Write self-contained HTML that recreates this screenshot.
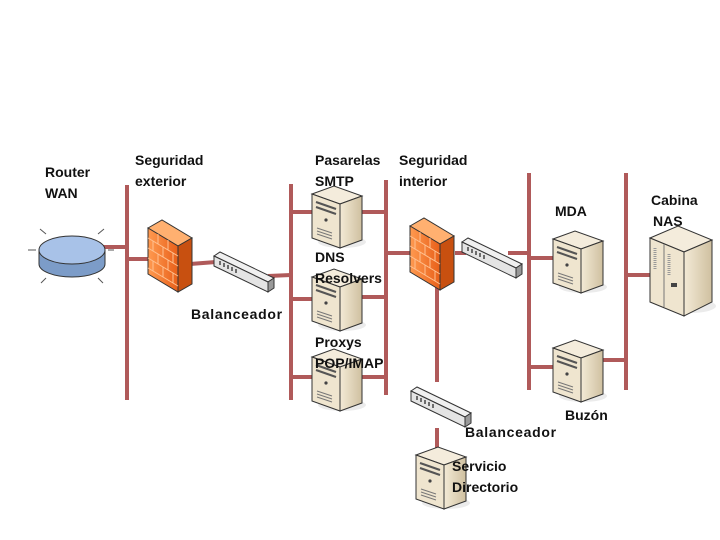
<!DOCTYPE html>
<html><head><meta charset="utf-8"><style>
html,body{margin:0;padding:0;background:#fff;}
svg{display:block;}
text{font-family:"Liberation Sans",sans-serif;font-size:14px;font-weight:bold;fill:#111;}
.ls{letter-spacing:0.7px;}
</style></head><body>
<svg width="720" height="540" viewBox="0 0 720 540" xmlns="http://www.w3.org/2000/svg">
<defs>
<linearGradient id="beige" x1="0" x2="1"><stop offset="0" stop-color="#f3ead6"/><stop offset="1" stop-color="#cfc0a0"/></linearGradient>
<linearGradient id="fw" x1="0" x2="1"><stop offset="0" stop-color="#ff9a50"/><stop offset="1" stop-color="#e8601a"/></linearGradient>
<g id="srv">
<ellipse cx="30" cy="60" rx="24" ry="6" fill="#ddd" opacity="0.6"/>
<polygon points="0,12 22,4 50,14 28,22" fill="#f4ecdc" stroke="#333" stroke-width="1"/>
<polygon points="0,12 28,22 28,66 0,56" fill="#efe5cf" stroke="#333" stroke-width="1"/>
<polygon points="28,22 50,14 50,58 28,66" fill="url(#beige)" stroke="#333" stroke-width="1"/>
<line x1="4" y1="20" x2="24" y2="27" stroke="#555" stroke-width="2"/>
<line x1="4" y1="25" x2="24" y2="32" stroke="#555" stroke-width="2"/>
<circle cx="14" cy="38" r="1.6" fill="#444"/>
<line x1="5" y1="46" x2="20" y2="51" stroke="#777"/>
<line x1="5" y1="49" x2="20" y2="54" stroke="#777"/>
<line x1="5" y1="52" x2="20" y2="57" stroke="#777"/>
</g>
<g id="fwall">
<polygon points="0,8 14,0 44,18 30,26" fill="#ffb070" stroke="#333"/>
<polygon points="0,8 30,26 30,72 0,54" fill="url(#fw)" stroke="#333"/>
<polygon points="30,26 44,18 44,64 30,72" fill="#c85010" stroke="#333"/>
<g stroke="#ffc090" stroke-width="1" fill="none">
<path d="M0,18 L30,36 M0,28 L30,46 M0,38 L30,56 M0,48 L30,66"/>
<path d="M10,14 L10,24 M20,20 L20,30 M5,21 L5,31 M15,27 L15,37 M25,33 L25,43 M10,34 L10,44 M20,40 L20,50 M5,41 L5,51 M15,47 L15,57 M25,53 L25,63"/>
</g>
</g>
<g id="sw">
<polygon points="0,8 6,4 60,30 54,34" fill="#f0f0f0" stroke="#333"/>
<polygon points="0,8 54,34 54,44 0,18" fill="#e4e4e4" stroke="#333"/>
<polygon points="54,34 60,30 60,40 54,44" fill="#999" stroke="#333"/>
<g stroke="#444" stroke-width="1.5"><line x1="6" y1="13" x2="6" y2="17"/><line x1="10" y1="15" x2="10" y2="19"/><line x1="14" y1="17" x2="14" y2="21"/><line x1="18" y1="19" x2="18" y2="23"/><line x1="22" y1="21" x2="22" y2="25"/></g>
</g>
</defs>

<g stroke="#b05a5a" stroke-width="4" fill="none">
<line x1="127" y1="185" x2="127" y2="400"/>
<line x1="291" y1="184" x2="291" y2="400"/>
<line x1="386" y1="180" x2="386" y2="395"/>
<line x1="529" y1="173" x2="529" y2="390"/>
<line x1="626" y1="173" x2="626" y2="390"/>
<line x1="437" y1="285" x2="437" y2="382"/>
<line x1="437" y1="428" x2="437" y2="448"/>
<line x1="103" y1="247" x2="127" y2="247"/>
<line x1="127" y1="259" x2="150" y2="259"/>
<line x1="190" y1="264" x2="216" y2="262"/>
<line x1="268" y1="276" x2="291" y2="275"/>
<line x1="291" y1="212" x2="315" y2="212"/>
<line x1="291" y1="299" x2="315" y2="299"/>
<line x1="291" y1="377" x2="315" y2="377"/>
<line x1="360" y1="212" x2="386" y2="212"/>
<line x1="360" y1="297" x2="386" y2="297"/>
<line x1="360" y1="377" x2="386" y2="377"/>
<line x1="386" y1="253" x2="412" y2="253"/>
<line x1="455" y1="253" x2="466" y2="253"/>
<line x1="508" y1="253" x2="529" y2="253"/>
<line x1="529" y1="258" x2="555" y2="258"/>
<line x1="529" y1="367" x2="555" y2="367"/>
<line x1="603" y1="360" x2="626" y2="360"/>
<line x1="626" y1="275" x2="652" y2="275"/>
</g>

<!-- router -->
<g stroke="#555" stroke-width="1">
<line x1="36" y1="250" x2="28" y2="250"/><line x1="108" y1="250" x2="114" y2="250"/>
<line x1="46" y1="234" x2="40" y2="229"/><line x1="98" y1="234" x2="104" y2="229"/>
<line x1="46" y1="278" x2="41" y2="283"/><line x1="98" y1="278" x2="103" y2="283"/>
</g>
<path d="M39,250 L39,264 A33,13 0 0 0 105,264 L105,250 Z" fill="#7c9cc8" stroke="#333"/>
<ellipse cx="72" cy="250" rx="33" ry="14" fill="#a8c2e8" stroke="#333"/>

<use href="#fwall" x="148" y="220"/>
<use href="#fwall" x="410" y="218"/>
<use href="#sw" x="214" y="248"/>
<use href="#sw" x="462" y="234"/>
<use href="#sw" x="411" y="383"/>

<use href="#srv" x="312" y="182"/>
<use href="#srv" x="312" y="265"/>
<use href="#srv" x="312" y="345"/>
<use href="#srv" x="553" y="227"/>
<use href="#srv" x="553" y="336"/>
<use href="#srv" x="416" y="443"/>

<!-- NAS -->
<ellipse cx="690" cy="306" rx="26" ry="7" fill="#ddd" opacity="0.6"/>
<polygon points="650,238 678,226 712,240 684,252" fill="#f4ecdc" stroke="#333"/>
<polygon points="650,238 684,252 684,316 650,302" fill="#efe5cf" stroke="#333"/>
<polygon points="684,252 712,240 712,302 684,316" fill="url(#beige)" stroke="#333"/>
<line x1="664" y1="244" x2="664" y2="307" stroke="#777"/>
<line x1="655" y1="248" x2="655" y2="270" stroke="#999" stroke-dasharray="1,1" stroke-width="3"/>
<line x1="669" y1="254" x2="669" y2="276" stroke="#999" stroke-dasharray="1,1" stroke-width="3"/>
<rect x="671" y="283" width="6" height="4" fill="#444"/>

<text x="45" y="177">Router</text><text x="45" y="198">WAN</text>
<text x="135" y="165">Seguridad</text><text x="135" y="186">exterior</text>
<text x="315" y="165">Pasarelas</text><text x="315" y="186">SMTP</text>
<text x="399" y="165">Seguridad</text><text x="399" y="186">interior</text>
<text x="555" y="216">MDA</text>
<text x="651" y="205">Cabina</text><text x="653" y="226">NAS</text>
<text x="315" y="262">DNS</text><text x="315" y="283">Resolvers</text>
<text x="191" y="319" class="ls">Balanceador</text>
<text x="315" y="347">Proxys</text><text x="315" y="368">POP/IMAP</text>
<text x="565" y="420">Buzón</text>
<text x="465" y="437" class="ls">Balanceador</text>
<text x="452" y="471">Servicio</text><text x="452" y="492">Directorio</text>
</svg>
</body></html>
